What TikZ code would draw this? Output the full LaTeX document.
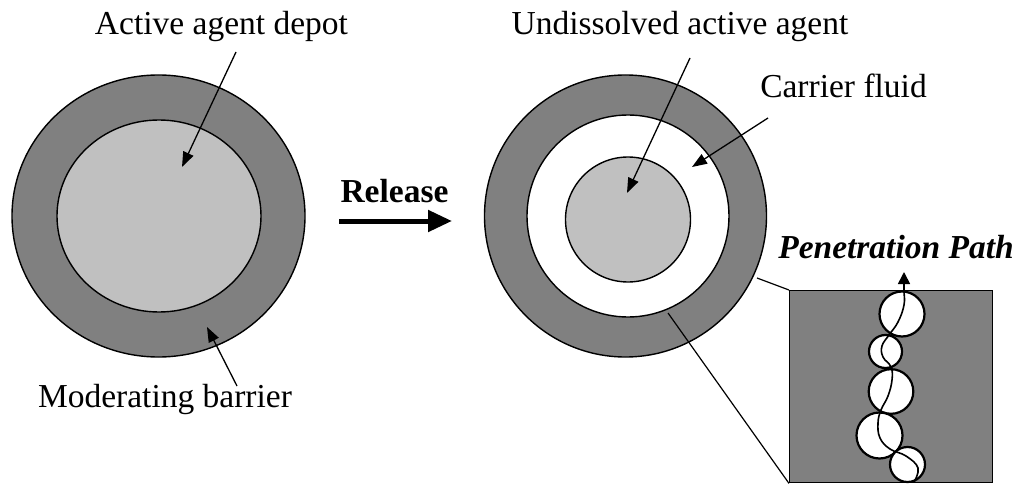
\documentclass[tikz,border=0pt]{standalone}
\usepackage{fontspec}
\setmainfont{Liberation Serif}
\usetikzlibrary{arrows.meta}
\definecolor{ringgray}{RGB}{128,128,128}
\definecolor{coregray}{RGB}{192,192,192}
\begin{document}
\begin{tikzpicture}[x=1pt,y=-1pt,
  lbl/.style={font=\fontsize{33.5}{40}\selectfont, inner sep=0pt, anchor=base},
  pointer/.style={line width=1.3pt, -{Triangle[length=15pt,width=11pt]}},
  edge/.style={line width=1.4pt},
  zoomline/.style={line width=1.2pt},
  bubble/.style={draw, fill=white, line width=2.2pt}]
\useasboundingbox (0,0) rectangle (1018,484);
\fill[white] (0,0) rectangle (1018,484);

% ---- left particle
\draw[edge, fill=ringgray] (158.5,216) ellipse [x radius=146.5, y radius=141];
\draw[edge, fill=coregray] (159,216) ellipse [x radius=102, y radius=96];

% ---- right particle
\draw[edge, fill=ringgray] (625.5,216) circle [radius=141];
\draw[edge, fill=white] (628,216) circle [radius=101];
\draw[edge, fill=coregray] (628,219.5) circle [radius=62.5];

% ---- magnified box
\node[draw, line width=1.4pt, fill=ringgray, minimum width=203pt, minimum height=192pt,
      inner sep=0pt, anchor=north west] (box) at (789,290) {};
\begin{scope}
  \clip (box.south west) rectangle (box.north east);
  \draw[bubble] (902,314) circle [radius=22.5];
  \draw[bubble] (885.5,351.5) circle [radius=16.5];
  \draw[bubble] (891,391.5) circle [radius=22.3];
  \draw[bubble] (879.5,435.5) circle [radius=23];
  \draw[bubble] (907.5,464.5) circle [radius=17.5];
\end{scope}
\draw[line width=1.6pt, -{Triangle[length=12pt,width=12pt]}]
  plot[smooth, tension=0.7] coordinates {(914,482) (918,468) (906,456) (890,449) (880,438)
  (878,423) (881,410) (888,396) (892,380) (891,367) (883,357) (882,346) (889,335)
  (898,322) (904,305) (904,290) (904,272)};

% zoom lines
\coordinate (zoomA) at (757,278);
\coordinate (zoomB) at (668,313);
\draw[zoomline] (zoomA) -- (box.north west);
\draw[zoomline] (zoomB) -- (box.south west);

% ---- labels
\node[lbl] (depot) at (221.5,35) {Active agent depot};
\node[lbl] (barrier) at (165,407) {Moderating barrier};
\node[lbl] (undis) at (680,35) {Undissolved active agent};
\node[lbl] (carrier) at (843.5,98) {Carrier fluid};
\node[lbl, font=\fontsize{33.5}{40}\selectfont\bfseries] (release) at (394.5,202) {Release};
\node[lbl, font=\fontsize{33.5}{40}\selectfont\bfseries\itshape] (pen) at (896,258) {Penetration Path};

% ---- pointers
\coordinate (depotTail) at (236,52);
\coordinate (depotTip) at (182,167);
\coordinate (barrierTail) at (237,386);
\coordinate (barrierTip) at (207,327);
\coordinate (undTail) at (690,58);
\coordinate (undTip) at (627,193);
\coordinate (carrTail) at (768,118);
\coordinate (carrTip) at (692,167);
\draw[pointer] (depotTail) -- (depotTip);
\draw[pointer] (barrierTail) -- (barrierTip);
\draw[pointer] (undTail) -- (undTip);
\draw[pointer] (carrTail) -- (carrTip);

% release arrow
\coordinate (relTail) at (339,221);
\coordinate (relTip) at (452,221);
\draw[line width=5pt, -{Triangle[length=24pt,width=21pt]}] (relTail) -- (relTip);
\end{tikzpicture}
\end{document}
